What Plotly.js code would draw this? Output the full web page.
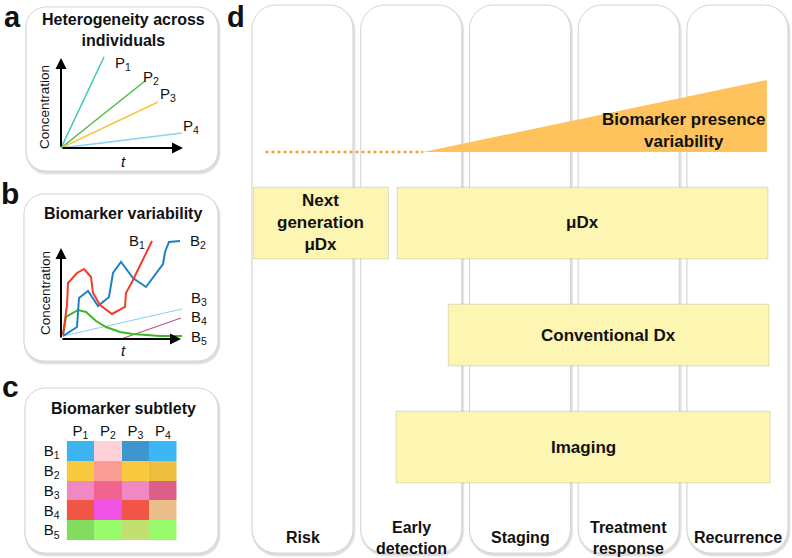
<!DOCTYPE html>
<html><head><meta charset="utf-8">
<script src="https://cdn.plot.ly/plotly-3.0.1.min.js"></script>
<style>html,body{margin:0;padding:0;background:#fff}#chart{width:792px;height:558px}</style>
</head><body><div id="chart"></div>
<script>
// ================= DATA =================
// Panel a: heterogeneity across individuals (concentration vs time, arbitrary units)
const patients = ['P<sub>1</sub>', 'P<sub>2</sub>', 'P<sub>3</sub>', 'P<sub>4</sub>'];
const patientEndTime = [4.3, 8.4, 9.7, 12.1];
const patientEndConc = [9.1, 6.7, 4.6, 1.5];

// Panel b: biomarker variability (concentration vs time)
const biomarkers = ['B<sub>1</sub>', 'B<sub>2</sub>', 'B<sub>3</sub>', 'B<sub>4</sub>', 'B<sub>5</sub>'];
const b1Time = [0.2, 0.6, 0.7, 1.6, 2.3, 3.0, 3.2, 3.9, 5.1, 6.4, 6.5, 7.1, 9.1];
const b1Conc = [0.4, 3.4, 5.6, 6.6, 7.0, 6.2, 4.6, 3.4, 2.5, 3.2, 4.6, 5.7, 9.8];
const b2Time = [0.2, 1.6, 1.8, 2.7, 3.7, 4.8, 5.2, 6.0, 7.2, 8.5, 10.2, 10.4, 10.8, 11.9];
const b2Conc = [0.3, 1.2, 4.1, 4.8, 3.3, 4.2, 6.6, 7.7, 6.1, 5.2, 7.5, 8.7, 9.7, 9.8];
const b3Time = [0.2, 12.1];
const b3Conc = [0.3, 3.0];
const b4Time = [6.0, 12.0];
const b4Conc = [0.0, 2.1];
const b5Time = [0.2, 0.5, 1.7, 2.5, 3.5, 4.5, 5.9, 7.2, 9.9, 12.1];
const b5Conc = [0.4, 2.2, 2.9, 2.7, 1.8, 1.2, 0.7, 0.5, 0.3, 0.3];

// Panel c: biomarker subtlety (cell colours per biomarker row / patient column)
const subtletyColors = [
  ['#3cb4f0', '#ffd1d9', '#3d96cc', '#3cb6f4'],
  ['#f8c93c', '#fa9e96', '#f9ca3e', '#ebbe40'],
  ['#f088c2', '#f0648f', '#f089c1', '#dd5f88'],
  ['#f05545', '#ef52e5', '#f05545', '#ebbe8c'],
  ['#82dc5e', '#98fc6a', '#c2e070', '#98fc6a']
];

// Panel d: clinical stages and diagnostic tools (positions in stage units, 0 = Risk)
const stages = ['Risk', 'Early<br>detection', 'Staging', 'Treatment<br>response', 'Recurrence'];
const tools = ['Next<br>generation<br>μDx', 'μDx', 'Conventional Dx', 'Imaging'];
const toolStart = [-0.45, 0.87, 1.34, 0.86];
const toolEnd = [0.79, 4.28, 4.29, 4.30];
const toolLane = [0, 0, 1, 2];
const toolThickness = [0.64, 0.64, 0.55, 0.64];
const variabilityStage = [-0.34, 1.11, 4.27];
const variabilityLevel = [0, 0, 1];

// ================= LAYOUT HELPERS =================
const W = 792, H = 558;
const FONT = 'Liberation Sans, Arial, Helvetica, sans-serif';
const px2x = p => p / W;
const px2y = p => 1 - p / H;
function xDomain(origin, scale, r0, r1) { return [px2x(origin + scale * r0), px2x(origin + scale * r1)]; }
function yDomain(origin, scale, r0, r1) { return [px2y(origin - scale * r0), px2y(origin - scale * r1)]; }

function rrPath(x0, y0, x1, y1, r) {
  const k = 0.5523 * r;
  const P = (x, y) => `${px2x(x).toFixed(5)},${px2y(y).toFixed(5)}`;
  return `M${P(x0 + r, y0)} L${P(x1 - r, y0)} C${P(x1 - r + k, y0)} ${P(x1, y0 + r - k)} ${P(x1, y0 + r)} ` +
    `L${P(x1, y1 - r)} C${P(x1, y1 - r + k)} ${P(x1 - r + k, y1)} ${P(x1 - r, y1)} ` +
    `L${P(x0 + r, y1)} C${P(x0 + r - k, y1)} ${P(x0, y1 - r + k)} ${P(x0, y1 - r)} ` +
    `L${P(x0, y0 + r)} C${P(x0, y0 + r - k)} ${P(x0 + r - k, y0)} ${P(x0 + r, y0)} Z`;
}
const shapes = [];
function card(x0, y0, x1, y1, r) {
  shapes.push({type: 'path', xref: 'paper', yref: 'paper', layer: 'below', path: rrPath(x0 + 1, y0 + 2, x1 + 1, y1 + 2, r),
    line: {color: 'rgba(0,0,0,0.10)', width: 3}, fillcolor: 'rgba(0,0,0,0.05)'});
  shapes.push({type: 'path', xref: 'paper', yref: 'paper', layer: 'below', path: rrPath(x0, y0, x1, y1, r),
    line: {color: '#d4d4d4', width: 1}, fillcolor: '#ffffff'});
}
card(26, 7, 218, 171, 20);
card(24, 194, 218, 361, 20);
card(25, 388, 218, 553, 20);
// stage columns (same mapping as xaxis4: px = 302.5 + 108.75*stage)
for (let i = 0; i < stages.length; i++) {
  const cx = 302.5 + 108.75 * i;
  card(cx - 50.5, 5, cx + 50.5, 553, 24);
}

const annotations = [];
function txt(text, x, y, size, opts) {
  annotations.push(Object.assign({text: text, x: px2x(x), y: px2y(y), xref: 'paper', yref: 'paper',
    showarrow: false, xanchor: 'center', yanchor: 'middle', font: {family: FONT, size: size, color: '#111'}}, opts || {}));
}
function arrow(xref, yref, x0, y0, x1, y1) {
  annotations.push({text: '', xref: xref, yref: yref, axref: xref, ayref: yref, x: x1, y: y1, ax: x0, ay: y0,
    showarrow: true, arrowhead: 2, arrowsize: 1.1, arrowwidth: 2, arrowcolor: '#000', standoff: 0, startstandoff: 0});
}

// panel letters
txt('<b>a</b>', 12, 0, 29, {yanchor: 'top', borderpad: 0});
txt('<b>b</b>', 10, 193, 30);
txt('<b>c</b>', 10, 386, 30);
txt('<b>d</b>', 236, 0, 29, {yanchor: 'top', borderpad: 0});

// panel titles
txt('<b>Heterogeneity across<br>individuals</b>', 123, 30, 16);
txt('<b>Biomarker variability</b>', 123, 213, 16);
txt('<b>Biomarker subtlety</b>', 123, 408, 16);

// axis annotations
txt('Concentration', 45, 107, 13.5, {textangle: -90});
txt('Concentration', 45, 293, 13.5, {textangle: -90});
txt('<i>t</i>', 123, 162, 15);
txt('<i>t</i>', 123, 350, 15);

// series labels
const pLabelPos = [[123, 63], [151, 77], [168, 94], [191, 126]];
patients.forEach((p, i) => txt(p, pLabelPos[i][0], pLabelPos[i][1], 15));
const bLabelPos = [[137, 241], [198, 241], [199, 298], [199, 317], [199, 337]];
biomarkers.forEach((b, i) => txt(b, bLabelPos[i][0], bLabelPos[i][1], 15));

// arrows for mini axes
arrow('x', 'y', 0, 0, 0, 9.0);
arrow('x', 'y', 0, 0, 12.2, 0);
arrow('x2', 'y2', 0, 0, 0, 9.1);
arrow('x2', 'y2', 0, 0, 12.0, 0);

// stage labels
stages.forEach((s, i) => annotations.push({text: '<b>' + s + '</b>', x: i, xref: 'x4', y: px2y(537.5), yref: 'paper',
  showarrow: false, xanchor: 'center', yanchor: 'middle', borderpad: 0, font: {family: FONT, size: 16, color: '#111'}}));
// tool labels
tools.forEach((t, i) => annotations.push({text: '<b>' + t + '</b>', x: (toolStart[i] + toolEnd[i]) / 2, xref: 'x4',
  y: toolLane[i], yref: 'y4', showarrow: false, xanchor: 'center', yanchor: 'middle',
  font: {family: FONT, size: 17, color: '#111'}}));
txt('<b>Biomarker presence<br>variability</b>', 683, 131, 17);

// ================= TRACES =================
const traces = [];
const pColors = ['#3cc6b6', '#4cbd44', '#f5c842', '#8ed1f3'];
patients.forEach((p, i) => traces.push({type: 'scatter', mode: 'lines', x: [0, patientEndTime[i]], y: [0, patientEndConc[i]],
  xaxis: 'x', yaxis: 'y', line: {color: pColors[i], width: 1.5}}));

const bSeries = [
  [b3Time, b3Conc, '#8fd0f4', 1.2],
  [b4Time, b4Conc, '#b85490', 1.2],
  [b5Time, b5Conc, '#3cb820', 2],
  [b2Time, b2Conc, '#1f80c4', 2],
  [b1Time, b1Conc, '#f23c26', 2]
];
bSeries.forEach(s => traces.push({type: 'scatter', mode: 'lines', x: s[0], y: s[1], xaxis: 'x2', yaxis: 'y2',
  line: {color: s[2], width: s[3]}}));

// heatmap with one discrete colour per cell
const flatColors = subtletyColors.flat();
const nCells = flatColors.length;
const colorscale = [];
flatColors.forEach((c, i) => { colorscale.push([i / nCells, c]); colorscale.push([(i + 1) / nCells, c]); });
const zIdx = subtletyColors.map((row, r) => row.map((c, k) => r * row.length + k));
traces.push({type: 'heatmap', x: patients, y: biomarkers, z: zIdx, zmin: -0.5, zmax: nCells - 0.5,
  colorscale: colorscale, showscale: false, xaxis: 'x3', yaxis: 'y3', hoverinfo: 'skip'});

// tool bars
traces.push({type: 'bar', orientation: 'h', y: toolLane, base: toolStart, x: toolEnd.map((e, i) => e - toolStart[i]),
  width: toolThickness, xaxis: 'x4', yaxis: 'y4',
  marker: {color: '#fcf6b2', line: {color: 'rgba(0,0,0,0.12)', width: 1}}});

// variability: dotted baseline then growing wedge
traces.push({type: 'scatter', mode: 'lines', x: variabilityStage.slice(0, 2), y: variabilityLevel.slice(0, 2),
  xaxis: 'x4', yaxis: 'y5', line: {color: '#f7a030', width: 2.5, dash: 'dot'}});
traces.push({type: 'scatter', mode: 'lines', x: [variabilityStage[1], variabilityStage[2], variabilityStage[2], variabilityStage[1]],
  y: [variabilityLevel[1], variabilityLevel[2], variabilityLevel[1], variabilityLevel[1]],
  xaxis: 'x4', yaxis: 'y5', fill: 'toself', fillcolor: '#fec35c', line: {width: 0, color: '#fec35c'}});

// ================= LAYOUT =================
const hidden = {visible: false, fixedrange: true};
const layout = {
  width: W, height: H, autosize: false, margin: {l: 0, r: 0, t: 0, b: 0, pad: 0},
  paper_bgcolor: '#ffffff', plot_bgcolor: 'rgba(0,0,0,0)', showlegend: false, hovermode: false,
  barmode: 'overlay', font: {family: FONT, color: '#111'},
  xaxis: Object.assign({domain: xDomain(61, 10, -0.5, 12.6), range: [-0.5, 12.6], anchor: 'y'}, hidden),
  yaxis: Object.assign({domain: yDomain(148, 10, -0.5, 9.6), range: [-0.5, 9.6], anchor: 'x'}, hidden),
  xaxis2: Object.assign({domain: xDomain(61, 10, -0.5, 12.6), range: [-0.5, 12.6], anchor: 'y2'}, hidden),
  yaxis2: Object.assign({domain: yDomain(339, 10, -0.5, 10.3), range: [-0.5, 10.3], anchor: 'x2'}, hidden),
  xaxis3: {domain: [px2x(66.7), px2x(176.7)], anchor: 'y3', side: 'top', ticks: '', showgrid: false, zeroline: false,
    showline: false, tickfont: {family: FONT, size: 15, color: '#111'}, ticklabelstandoff: 1, fixedrange: true},
  yaxis3: {domain: [px2y(540), px2y(441)], anchor: 'x3', autorange: 'reversed', ticks: '', showgrid: false, zeroline: false,
    showline: false, tickfont: {family: FONT, size: 15, color: '#111'}, ticklabelstandoff: 6, fixedrange: true},
  xaxis4: Object.assign({domain: [px2x(250), px2x(790)], range: [(250 - 302.5) / 108.75, (790 - 302.5) / 108.75], anchor: 'y4'}, hidden),
  yaxis4: Object.assign({domain: [px2y(495), px2y(180)], range: [(495 - 223) / 112, (180 - 223) / 112], anchor: 'x4'}, hidden),
  yaxis5: Object.assign({domain: [px2y(152 + 72 * 0.1), px2y(152 - 72 * 1.05)], range: [-0.1, 1.05], anchor: 'x4'}, hidden),
  shapes: shapes, annotations: annotations
};
Plotly.newPlot('chart', traces, layout, {staticPlot: true, displayModeBar: false});
</script>
</body></html>
